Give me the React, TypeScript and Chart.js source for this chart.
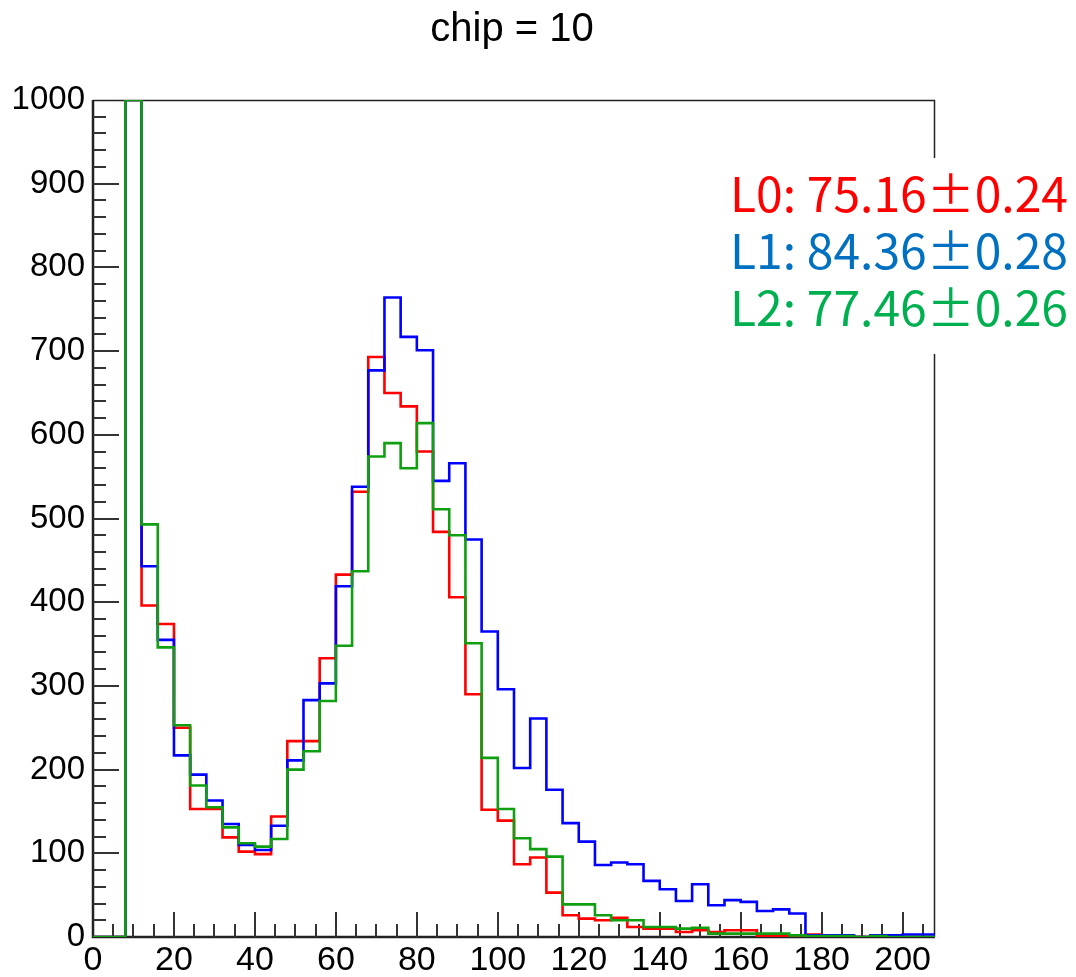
import React, { useEffect, useRef } from "react";
import { Chart, registerables } from "chart.js";

Chart.register(...registerables);

// ---- data ----
const TITLE = "chip = 10";
const BIN_WIDTH = 4;
const X_MIN = 0;
const X_MAX = 208;
const Y_MIN = 0;
const Y_MAX = 1000;
const X_TICKS = [0, 20, 40, 60, 80, 100, 120, 140, 160, 180, 200];
const Y_TICKS = [0, 100, 200, 300, 400, 500, 600, 700, 800, 900, 1000];
const X_MINOR_STEP = 5;
const Y_MINOR_STEP = 20;

// counts per bin, bins of width 4 starting at 0 (52 bins, 0..208)
const L0_COUNTS = [
  0, 0, 1000, 396, 374, 250, 153, 153, 119, 102, 99, 144, 234, 234, 333, 433,
  532, 693, 650, 634, 580, 484, 406, 290, 152, 139, 87, 95, 53, 26, 22, 20,
  23, 12, 10, 10, 6, 8, 6, 8, 8, 1, 1, 0, 3, 1, 0, 0, 0, 0, 0, 0,
];
const L1_COUNTS = [
  0, 0, 1000, 443, 355, 217, 194, 163, 135, 110, 104, 133, 211, 283, 303, 419,
  538, 677, 764, 717, 701, 545, 566, 475, 365, 296, 202, 261, 176, 136, 114, 86,
  89, 87, 67, 57, 43, 63, 38, 44, 42, 31, 33, 28, 2, 2, 2, 0, 2, 2, 3, 3,
];
const L2_COUNTS = [
  0, 0, 1000, 493, 346, 253, 181, 155, 131, 112, 108, 117, 200, 222, 282, 348,
  437, 574, 590, 560, 614, 511, 480, 351, 214, 153, 118, 105, 96, 39, 39, 26,
  20, 20, 12, 12, 10, 11, 4, 4, 4, 4, 4, 2, 1, 1, 1, 0, 1, 0, 0, 0,
];

const SERIES_NAMES = ["L0", "L1", "L2"];
const LEGEND_TEXTS = ["L0: 75.16±0.24", "L1: 84.36±0.28", "L2: 77.46±0.26"];

// ---- styles ----
const LINE_COLORS = ["#ff0000", "#0000ff", "#109f10"];
const LEGEND_COLORS = ["#ff0000", "#0070c0", "#00b050"];
const AXIS_FONT = "'Liberation Sans', Arial, Helvetica, sans-serif";

function toSteps(values: number[]) {
  const pts = values.map((v, i) => ({ x: X_MIN + i * BIN_WIDTH, y: v }));
  pts.push({ x: X_MIN + values.length * BIN_WIDTH, y: values[values.length - 1] });
  return pts;
}

const framePlugin = {
  id: "rootFrame",
  beforeDatasetsDraw(chart: any) {
    const { ctx, chartArea: a, scales } = chart;
    const xs = scales.x;
    const ys = scales.y;
    ctx.save();
    ctx.strokeStyle = "#222";
    ctx.lineWidth = 1.5;
    ctx.beginPath();
    ctx.moveTo(a.left, a.top + 0.5);
    ctx.lineTo(a.right - 0.5, a.top + 0.5);
    ctx.lineTo(a.right - 0.5, a.bottom);
    ctx.stroke();
    ctx.lineWidth = 2.5;
    ctx.beginPath();
    ctx.moveTo(a.left, a.top);
    ctx.lineTo(a.left, a.bottom);
    ctx.lineTo(a.right, a.bottom);
    ctx.stroke();
    ctx.strokeStyle = "#333";
    ctx.lineWidth = 2;
    ctx.beginPath();
    for (let v = X_MIN + X_MINOR_STEP; v <= X_MAX; v += X_MINOR_STEP) {
      const px = Math.round(xs.getPixelForValue(v));
      const len = X_TICKS.includes(v) ? 25 : 13;
      ctx.moveTo(px, a.bottom);
      ctx.lineTo(px, a.bottom - len);
    }
    for (let v = Y_MIN + Y_MINOR_STEP; v < Y_MAX; v += Y_MINOR_STEP) {
      const py = Math.round(ys.getPixelForValue(v));
      const len = Y_TICKS.includes(v) ? 26 : 13;
      ctx.moveTo(a.left, py);
      ctx.lineTo(a.left + len, py);
    }
    ctx.stroke();
    ctx.restore();
  },
};

export default function App() {
  const canvasRef = useRef<HTMLCanvasElement | null>(null);

  useEffect(() => {
    const canvas = canvasRef.current;
    if (!canvas) return;
    const seriesValues = [L0_COUNTS, L1_COUNTS, L2_COUNTS];
    const chart = new Chart(canvas, {
      type: "line",
      data: {
        datasets: seriesValues.map((vals, i) => ({
          label: SERIES_NAMES[i],
          data: toSteps(vals),
          borderColor: LINE_COLORS[i],
          backgroundColor: LINE_COLORS[i],
          borderWidth: 2.6,
          pointRadius: 0,
          fill: false,
          stepped: "before" as const,
          order: 3 - i,
        })),
      },
      options: {
        animation: false,
        responsive: false,
        layout: { padding: { top: 100, right: 141, left: 0, bottom: 0 } },
        plugins: {
          legend: { display: false },
          title: { display: false },
          tooltip: { enabled: false },
        },
        scales: {
          x: {
            type: "linear",
            min: X_MIN,
            max: X_MAX,
            grid: { display: false },
            border: { display: false },
            afterBuildTicks: (s: any) => {
              s.ticks = X_TICKS.map((value) => ({ value }));
            },
            afterFit: (s: any) => {
              s.height = 40;
            },
            ticks: {
              autoSkip: false,
              maxRotation: 0,
              padding: -5,
              color: "#000",
              font: { family: AXIS_FONT, size: 34 },
              callback: (v: any) => String(v),
            },
          },
          y: {
            type: "linear",
            min: Y_MIN,
            max: Y_MAX,
            grid: { display: false },
            border: { display: false },
            afterBuildTicks: (s: any) => {
              s.ticks = Y_TICKS.map((value) => ({ value }));
            },
            afterFit: (s: any) => {
              s.width = 93;
            },
            ticks: {
              autoSkip: false,
              padding: 0,
              color: "#000",
              font: { family: AXIS_FONT, size: 33 },
              callback: (v: any) => String(v),
            },
          },
        },
      },
      plugins: [framePlugin],
    });
    return () => chart.destroy();
  }, []);

  return (
    <div style={{ position: "absolute", left: 0, top: 0, width: 1076, height: 977, background: "#fff" }}>
      <canvas ref={canvasRef} width={1076} height={977} style={{ display: "block" }} />
      <div
        style={{
          position: "absolute",
          left: 262,
          width: 500,
          top: 7,
          textAlign: "center",
          fontFamily: AXIS_FONT,
          fontSize: 40,
          lineHeight: "40px",
          color: "#000",
          whiteSpace: "nowrap",
        }}
      >
        {TITLE}
      </div>
      <div
        lang="ja"
        style={{
          position: "absolute",
          left: 722,
          top: 158,
          width: 354,
          height: 196,
          background: "#fff",
          paddingLeft: 8,
          paddingTop: 5,
          boxSizing: "border-box",
          fontFamily: "'Noto Sans CJK JP', sans-serif",
          fontSize: 48,
          lineHeight: "57px",
          whiteSpace: "nowrap",
        }}
      >
        {LEGEND_TEXTS.map((t, i) => (
          <div key={i} style={{ color: LEGEND_COLORS[i] }}>
            {t}
          </div>
        ))}
      </div>
    </div>
  );
}
